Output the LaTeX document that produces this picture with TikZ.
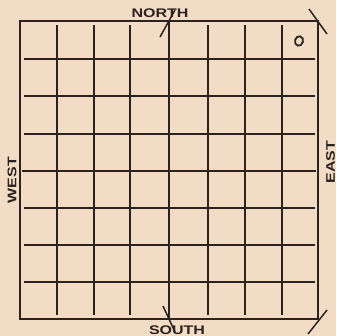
\documentclass[tikz,border=0pt]{standalone}
\usepackage{graphicx}
\usepackage{fontspec}
\setmainfont{Liberation Sans}
\definecolor{paper}{RGB}{242,220,198}
\definecolor{ink}{RGB}{44,34,30}
\begin{document}
\begin{tikzpicture}[x=1pt,y=-1pt,
  frame/.style={draw=ink,line width=2.6pt},
  mainline/.style={draw=ink,line width=2.1pt},
  gridline/.style={draw=ink,line width=1.3pt},
  tick/.style={draw=ink,line width=1.5pt},
  lbl/.style={inner sep=0pt,text=ink,font=\bfseries\fontsize{12.5}{12.5}\selectfont}]
\fill[paper] (0,0) rectangle (336,336);
\useasboundingbox (0,0) rectangle (336,336);
% inner grid lines
\foreach \x in {57,94,130,208,245,282} \draw[gridline] (\x,25) -- (\x,315);
\foreach \y in {59,96,134,208,245,282} \draw[gridline] (24,\y) -- (315,\y);
% centre lines
\draw[mainline] (169,21) -- (169,319);
\draw[mainline] (22,171) -- (316,171);
% frame
\draw[frame] (20,21) rectangle (318,319);
% ticks
\draw[tick] (160,37) -- (175,10);
\draw[tick] (309,9) -- (327,34);
\draw[tick] (163,306) -- (175,332);
\draw[tick] (308,334) -- (327,310);
% small circle
\draw[ink,line width=1.8pt,rotate around={-15:(299,41)}] (299,41) ellipse (4pt and 4.8pt);
% labels
\node[lbl] (north) at (160,13) {\scalebox{1.28}[1]{NORTH}};
\node[lbl] (south) at (177,330) {\scalebox{1.28}[1]{SOUTH}};
\node[lbl,rotate=90] (west) at (12,180) {\scalebox{1.28}[1]{WEST}};
\node[lbl,rotate=90] (east) at (330.5,162) {\scalebox{1.28}[1]{EAST}};
\end{tikzpicture}
\end{document}
